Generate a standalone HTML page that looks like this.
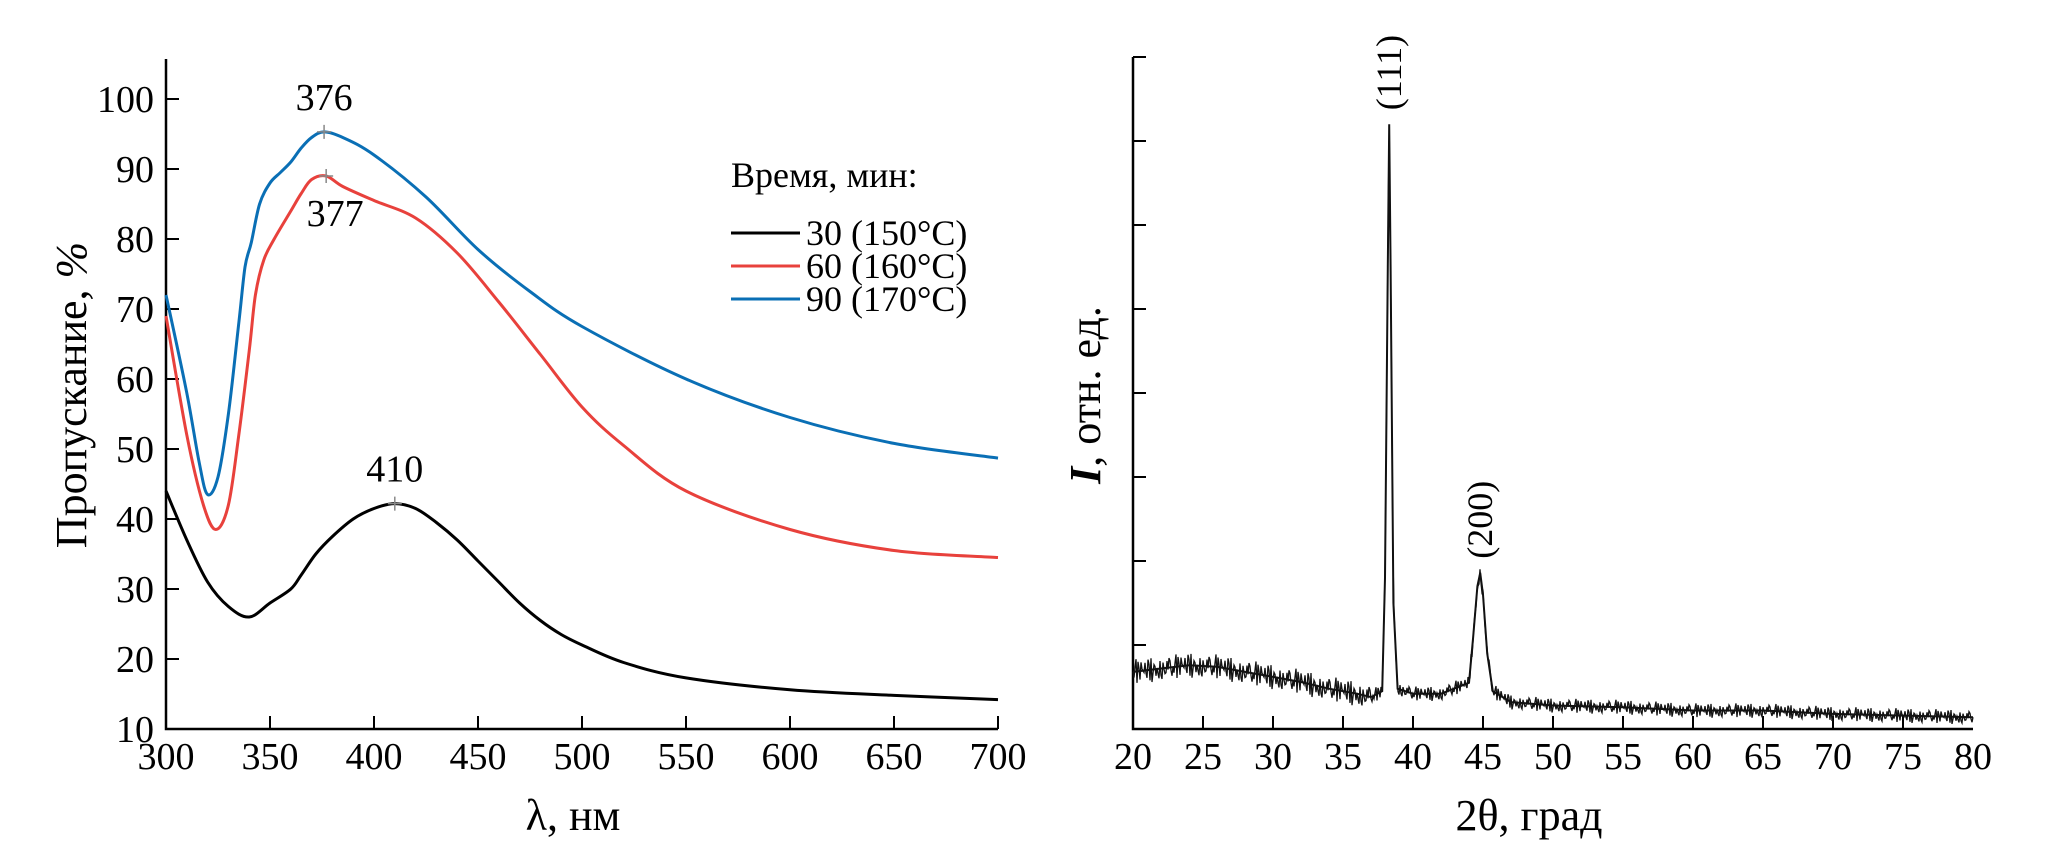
<!DOCTYPE html>
<html><head><meta charset="utf-8"><style>
html,body{margin:0;padding:0;background:#fff;}
svg{display:block;font-family:"Liberation Serif",serif;}
</style></head><body>
<svg id="fig" width="2067" height="852" viewBox="0 0 2067 852" xmlns="http://www.w3.org/2000/svg">
<g id="left"></g>
<g id="right"></g>
</svg>
<script>
// ---- Left chart data ----
const wlTicks = [300,350,400,450,500,550,600,650,700];
const trTicks = [10,20,30,40,50,60,70,80,90,100];
const blackX = [300,310,320,330,340,350,360,365,372,380,390,400,410,420,430,440,450,460,470,480,490,500,520,550,600,650,700];
const blackY = [44,37,31,27.5,26,28,30,32,35,37.5,40,41.5,42.2,41.5,39.5,37,34,31,28,25.5,23.5,22,19.5,17.3,15.6,14.8,14.2];
const redX = [300,310,318,324,330,335,340,343,347,352,360,365,370,377,385,400,420,440,460,480,500,520,550,600,650,700];
const redY = [69,52,42,38.5,42,52,64,72,77,80,84,86.5,88.5,89,87.5,85.5,83,78,71,63.5,56,50.5,44,38.5,35.5,34.5];
const blueX = [300,310,316,320,325,330,335,338,341,345,350,355,360,365,370,376,385,400,425,450,475,500,550,600,650,700];
const blueY = [72,58,48,43.5,46,55,68,76,79.5,85,88,89.5,91,93,94.5,95.3,94.5,92,86,78.5,72.5,67.5,60,54.5,50.8,48.7];
const peakLabels = ["376","377","410"];
const peakX = [376,377,410];
const peakY = [95.3,89,42.2];
const legendLabels = ["30 (150°C)","60 (160°C)","90 (170°C)"];
// ---- Right chart data ----
const thTicks = [20,25,30,35,40,45,50,55,60,65,70,75,80];
const xrdX = [20,22,24,25,26,28,30,32,34,36,37,37.8,38.0,38.2,38.3,38.4,38.6,38.9,40,42,44,44.3,44.6,44.8,45.0,45.3,45.7,47,50,55,60,65,70,75,80];
const xrdY = [0.68,0.72,0.76,0.75,0.74,0.68,0.62,0.56,0.48,0.42,0.38,0.45,1.8,5.5,7.2,5.5,1.5,0.48,0.42,0.42,0.55,1.1,1.7,1.86,1.6,0.9,0.45,0.32,0.28,0.26,0.22,0.22,0.18,0.16,0.14];
const xrdPeakLabels = ["(111)","(200)"];
const xrdPeakX = [38.3,44.8];
const xrdPeakY = [7.2,1.86];

const NS="http://www.w3.org/2000/svg";
function mk(parent,tag,attrs,text){const e=document.createElementNS(NS,tag);for(const k in attrs)e.setAttribute(k,attrs[k]);if(text!==undefined)e.textContent=text;parent.appendChild(e);return e;}
function smooth(pts){
  let d='M'+pts[0][0].toFixed(1)+','+pts[0][1].toFixed(1);
  for(let i=0;i<pts.length-1;i++){
    const p0=pts[Math.max(0,i-1)],p1=pts[i],p2=pts[i+1],p3=pts[Math.min(pts.length-1,i+2)];
    const c1=[p1[0]+(p2[0]-p0[0])/6,p1[1]+(p2[1]-p0[1])/6];
    const c2=[p2[0]-(p3[0]-p1[0])/6,p2[1]-(p3[1]-p1[1])/6];
    d+='C'+c1[0].toFixed(1)+','+c1[1].toFixed(1)+' '+c2[0].toFixed(1)+','+c2[1].toFixed(1)+' '+p2[0].toFixed(1)+','+p2[1].toFixed(1);
  }
  return d;
}

// Left axes
const L={x0:166,x1:998,y0:729,yTop:59};
const lx=v=>L.x0+(v-300)/400*(L.x1-L.x0);
const ly=v=>L.y0-(v-10)*7.0;
const gl=document.getElementById('left');
let ax=mk(gl,'path',{d:`M${L.x0},${L.yTop}V${L.y0}H${L.x1}`,fill:'none',stroke:'#000','stroke-width':2.5});


wlTicks.forEach(t=>{
  const tk=mk(gl,'line',{x1:lx(t),x2:lx(t),y1:L.y0,y2:L.y0-13,stroke:'#000','stroke-width':2});
  
  
  const tl=mk(gl,'text',{x:lx(t),y:L.y0+40,'font-size':38,'text-anchor':'middle'},t);
  
  
});
trTicks.forEach(t=>{
  const tk=mk(gl,'line',{x1:L.x0,x2:L.x0+13,y1:ly(t),y2:ly(t),stroke:'#000','stroke-width':2});
  
  
  const tl=mk(gl,'text',{x:L.x0-12,y:ly(t)+13,'font-size':38,'text-anchor':'end'},t);
  
  
});
let t1=mk(gl,'text',{x:573,y:830,'font-size':44,'text-anchor':'middle'},'λ, нм');


let t2=mk(gl,'text',{x:0,y:0,'font-size':44,'text-anchor':'middle',transform:'translate(86,395) rotate(-90)'});
t2.innerHTML='Пропускание, <tspan font-style="italic">%</tspan>';


function curve(xs,ys,color,name){
  const d=smooth(xs.map((x,i)=>[lx(x),ly(ys[i])]));
  const p=mk(gl,'path',{d:d,fill:'none',stroke:color,'stroke-width':3,'stroke-linejoin':'round'});
  
  
}
curve(blackX,blackY,'#000','series-30min');
curve(redX,redY,'#e8413c','series-60min');
curve(blueX,blueY,'#0a6fb5','series-90min');
const lblOff=[[0,-22],[9,50],[0,-22]];
peakX.forEach((p,i)=>{
  const cx=lx(p),cy=ly(peakY[i]);
  const m=mk(gl,'path',{d:`M${cx-7},${cy}H${cx+7}M${cx},${cy-7}V${cy+7}`,stroke:'#888','stroke-width':1.5});
  
  
  const tl=mk(gl,'text',{x:cx+lblOff[i][0],y:cy+lblOff[i][1],'font-size':38,'text-anchor':'middle'},peakLabels[i]);
  
  
});
let lt=mk(gl,'text',{x:731,y:187,'font-size':36},'Время, мин:');


const legCol=['#000','#e8413c','#0a6fb5'];
legendLabels.forEach((s,i)=>{
  const y=233+i*33;
  const l=mk(gl,'line',{x1:731,x2:800,y1:y,y2:y,stroke:legCol[i],'stroke-width':3});
  
  
  const tx=mk(gl,'text',{x:806,y:y+12,'font-size':36},s);
  
  
});

// Right chart
const R={x0:1133,x1:1973,y0:729,yTop:57,unit:84};
const rx=v=>R.x0+(v-20)/60*(R.x1-R.x0);
const ry=v=>R.y0-v*R.unit;
const gr=document.getElementById('right');
let ax2=mk(gr,'path',{d:`M${R.x0},${R.yTop}V${R.y0}H${R.x1}`,fill:'none',stroke:'#000','stroke-width':2.5});


thTicks.forEach(t=>{
  if(t>20&&t<80){
  const tk=mk(gr,'line',{x1:rx(t),x2:rx(t),y1:R.y0,y2:R.y0-13,stroke:'#000','stroke-width':2});
  
  }
  const tl=mk(gr,'text',{x:rx(t),y:R.y0+40,'font-size':38,'text-anchor':'middle'},t);
  
  
});
for(let k=1;k<=8;k++){
  const tk=mk(gr,'line',{x1:R.x0,x2:R.x0+13,y1:ry(k),y2:ry(k),stroke:'#000','stroke-width':2});
  
  
}
let t3=mk(gr,'text',{x:1529,y:830,'font-size':44,'text-anchor':'middle'},'2θ, град');


let t4=mk(gr,'text',{x:0,y:0,'font-size':44,'text-anchor':'middle',transform:'translate(1100,395) rotate(-90)'});
t4.innerHTML='<tspan font-style="italic" font-weight="bold">I</tspan>, отн. ед.';


function interp(x){for(let i=1;i<xrdX.length;i++){if(x<=xrdX[i]){const f=(x-xrdX[i-1])/(xrdX[i]-xrdX[i-1]);return xrdY[i-1]+f*(xrdY[i]-xrdY[i-1]);}}return xrdY[xrdY.length-1];}
// fixed irregular texture pattern (styling for the noisy trace)
const pat=[0,7,-3,11,-8,2,-12,6,-1,9,-6,3,-10,13,-4,5,-9,1,8,-7,4,-13,10,-2,6,-11,3,-5,12,-8,0,5,-6,9,-3,-10,7,2,-7,11];
let d='';let k=0;
for(let px=R.x0;px<=R.x1;px+=1){
  const v=(px-R.x0)/(R.x1-R.x0)*60+20;
  const base=ry(interp(v));
  const amp=(v<37?0.95:0.55);
  d+=(d?'L':'M')+px.toFixed(1)+','+(base+pat[k%pat.length]*amp).toFixed(1);
  k+=7;
}
let pl=mk(gr,'path',{d:d,fill:'none',stroke:'#111','stroke-width':1.3});


let pk='';
xrdX.forEach((x,i)=>{pk+=(i?'L':'M')+rx(x).toFixed(1)+','+ry(xrdY[i]).toFixed(1);});
let pl2=mk(gr,'path',{d:pk,fill:'none',stroke:'#111','stroke-width':2});


xrdPeakX.forEach((p,i)=>{
  const cx=rx(p)+12,cy=ry(xrdPeakY[i])-14;
  const tl=mk(gr,'text',{x:0,y:0,'font-size':36,'text-anchor':'start',transform:`translate(${cx},${cy}) rotate(-90)`},xrdPeakLabels[i]);
  
  
});
</script>
</body></html>
